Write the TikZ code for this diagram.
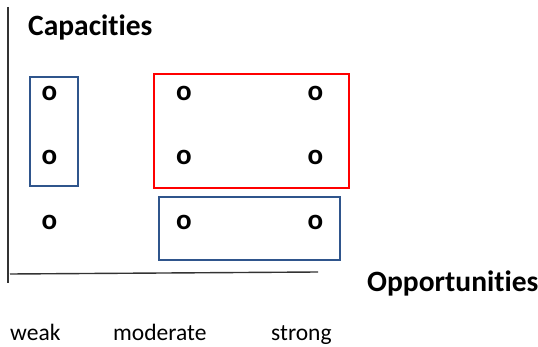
\documentclass[tikz,border=0pt]{standalone}
\usepackage{fontspec}
\setmainfont{Carlito}[Ligatures=NoCommon]
\definecolor{boxblue}{RGB}{47,85,140}
\tikzstyle{mark node}=[inner sep=0pt,font=\bfseries\fontsize{29}{30}\selectfont]
\tikzstyle{axis title}=[inner sep=0pt,anchor=base west,font=\bfseries\fontsize{29.5}{30}\selectfont]
\tikzstyle{level label}=[inner sep=0pt,anchor=base west,font=\fontsize{23.5}{25}\selectfont]
\tikzstyle{axis} = [draw,line width=1.4pt,black!80]
\tikzstyle{blue box} = [draw,line width=2pt,boxblue]
\tikzstyle{red box} = [draw,line width=2pt,red]

\begin{document}
\begin{tikzpicture}[x=1pt,y=-1pt]
			\useasboundingbox (0,0) rectangle (538,347);
			% axes
			\coordinate (top) at (8,7);
			\coordinate (corner) at (8,283);
			\coordinate (xstart) at (10,274);
			\coordinate (xend) at (318,272);
			\path[axis] (top) -- (corner);
			\path[axis] (xstart) -- (xend);
			\node[axis title] (capacities) at (28,36) {Capacities};
			\node[axis title] (opportunities) at (367,291) {Opportunities};
			% levels
			\node[level label] (weak) at (10,340.5) {weak};
			\node[level label] (moderate) at (113,340.5) {moderate};
			\node[level label] (strong) at (271,340.5) {strong};
			% the grid of marks
			\foreach \col/\x in {w/49.5,m/184,s/315.5}
				\foreach \row/\y in {1/93,2/157,3/222}
					\node[mark node] (\col\row) at (\x,\y) {o};
			% boxes
			\path[blue box] (30,77) rectangle (78,186);
			\path[red box] (154,74) rectangle (349,188);
			\path[blue box] (159,197) rectangle (340,260);
		\end{tikzpicture}
\end{document}
